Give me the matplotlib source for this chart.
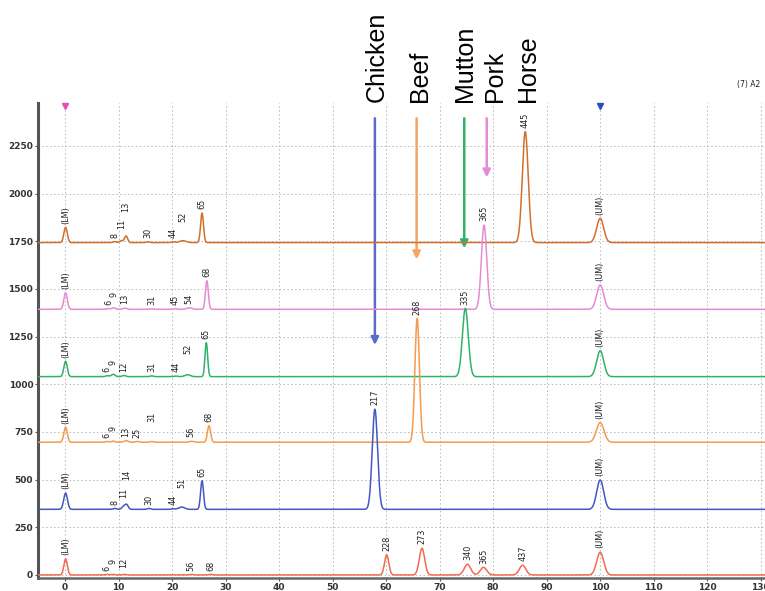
import numpy as np
import matplotlib
matplotlib.use('Agg')
from matplotlib import pyplot as plt

# peak tables, top trace first
horse_base = 1743
horse_pos = [0.1, 9.3, 10.5, 11.4, 15.5, 20.2, 22.0, 25.6, 86.0, 100.0]
horse_hgt = [80, 5, 10, 35, 4, 4, 10, 155, 582, 127]
horse_wid = [0.32, 0.3, 0.3, 0.3, 0.3, 0.3, 0.6, 0.27, 0.55, 0.65]
horse_lab = ['(LM)', '8', '11', '13', '30', '44', '52', '65', '445', '(UM)']
horse_lift = [0, 0, 40, 105, 0, 0, 80, 0, 0, 0]

pork_base = 1393
pork_pos = [0.1, 8.1, 9.1, 11.2, 16.2, 20.6, 23.2, 26.5, 78.3, 100.0]
pork_hgt = [87, 4, 8, 6, 3, 3, 8, 150, 442, 128]
pork_wid = [0.32, 0.3, 0.3, 0.35, 0.3, 0.3, 0.5, 0.27, 0.5, 0.65]
pork_lab = ['(LM)', '6', '9', '13', '31', '45', '54', '68', '365', '(UM)']
pork_lift = [0, 0, 35, 0, 0, 0, 0, 0, 0, 0]

mutton_base = 1040
mutton_pos = [0.1, 7.9, 9.0, 11.0, 16.2, 20.7, 22.9, 26.4, 74.8, 100.0]
mutton_hgt = [80, 5, 12, 6, 4, 3, 10, 178, 358, 136]
mutton_wid = [0.32, 0.3, 0.35, 0.35, 0.3, 0.3, 0.5, 0.25, 0.55, 0.65]
mutton_lab = ['(LM)', '6', '9', '12', '31', '44', '52', '65', '335', '(UM)']
mutton_lift = [0, 0, 30, 0, 0, 0, 90, 0, 0, 0]

beef_base = 696
beef_pos = [0.1, 7.9, 9.0, 11.4, 13.5, 16.2, 23.6, 26.9, 65.8, 100.0]
beef_hgt = [78, 4, 6, 8, 4, 4, 5, 87, 650, 103]
beef_wid = [0.32, 0.3, 0.3, 0.4, 0.3, 0.3, 0.4, 0.3, 0.42, 0.7]
beef_lab = ['(LM)', '6', '9', '13', '25', '31', '56', '68', '268', '(UM)']
beef_lift = [0, 0, 35, 0, 0, 80, 0, 0, 0, 0]

chicken_base = 344
chicken_pos = [0.1, 9.3, 10.9, 11.5, 15.7, 20.2, 21.8, 25.6, 57.9, 100.0]
chicken_hgt = [85, 5, 15, 25, 5, 3, 12, 150, 525, 154]
chicken_wid = [0.35, 0.3, 0.3, 0.3, 0.3, 0.3, 0.55, 0.27, 0.5, 0.65]
chicken_lab = ['(LM)', '8', '11', '14', '30', '44', '51', '65', '217', '(UM)']
chicken_lift = [0, 0, 20, 105, 0, 0, 80, 0, 0, 0]

mix_base = 0
mix_pos = [0.1, 7.9, 9.0, 11.0, 23.6, 27.2, 60.1, 66.7, 75.2, 78.2, 85.5, 100.0]
mix_hgt = [84, 3, 3, 3, 3, 3, 105, 140, 56, 40, 51, 119]
mix_wid = [0.32, 0.3, 0.3, 0.3, 0.3, 0.3, 0.4, 0.5, 0.6, 0.6, 0.6, 0.65]
mix_lab = ['(LM)', '6', '9', '12', '56', '68', '228', '273', '340', '365', '437', '(UM)']
mix_lift = [0, 0, 35, 15, 0, 0, 0, 0, 0, 0, 0, 0]

species = ['Chicken', 'Beef', 'Mutton', 'Pork', 'Horse']
species_x = [58.2, 66.4, 74.8, 80.4, 86.6]

arrow_x = [57.9, 65.7, 74.6, 78.8]
arrow_tip = [1206, 1655, 1713, 2085]
arrow_colors = ['#5a6cc6', '#f8a460', '#2fb36a', '#e58ad4']
arrow_top = 2395

x_ticks = list(range(0, 131, 10))
y_ticks = list(range(0, 2251, 250))

traces = [
    (horse_base, horse_pos, horse_hgt, horse_wid, horse_lab, horse_lift, '#d0702c'),
    (pork_base, pork_pos, pork_hgt, pork_wid, pork_lab, pork_lift, '#e48cd4'),
    (mutton_base, mutton_pos, mutton_hgt, mutton_wid, mutton_lab, mutton_lift, '#2fb36a'),
    (beef_base, beef_pos, beef_hgt, beef_wid, beef_lab, beef_lift, '#f79a4a'),
    (chicken_base, chicken_pos, chicken_hgt, chicken_wid, chicken_lab, chicken_lift, '#4557c0'),
    (mix_base, mix_pos, mix_hgt, mix_wid, mix_lab, mix_lift, '#f26a50'),
]

fig = plt.figure(figsize=(7.65, 5.91), dpi=100)
ax = fig.add_axes([0.0497, 0.022, 0.9503, 0.8037])
ax.set_xlim(-5.05, 130.8)
ax.set_ylim(-16, 2475)

x = np.linspace(-5.05, 130.8, 6000)

# each trace is its baseline plus one gaussian per peak
for base, pos, hgt, wid, lab, lift, col in traces:
    y = np.full_like(x, float(base))
    for p, h, w in zip(pos, hgt, wid):
        y += h * np.exp(-0.5 * ((x - p) / w) ** 2)
    ax.plot(x, y, color=col, lw=1.1, zorder=3)
    for p, t, l in zip(pos, lab, lift):
        top = np.interp(p, x, y)
        ax.text(p, top + 20 + l, t, rotation=90, ha='center', va='bottom',
                fontsize=6.5, fontstretch='condensed', color='#222222', zorder=4)

for ax_x, tip, col in zip(arrow_x, arrow_tip, arrow_colors):
    ax.annotate('', xy=(ax_x, tip), xytext=(ax_x, arrow_top),
                arrowprops=dict(arrowstyle='-|>', color=col, lw=1.8,
                                mutation_scale=11, shrinkA=0, shrinkB=0),
                zorder=2)

trans = ax.get_xaxis_transform()
for name, sx in zip(species, species_x):
    ax.text(sx, 1.002, name, transform=trans, rotation=90, ha='center',
            va='bottom', fontsize=18, family='Liberation Sans', color='black')

ax.plot([0], [0.993], marker='v', color='#e050b8', ms=5, transform=trans,
        clip_on=False, zorder=5)
ax.plot([100], [0.993], marker='v', color='#2a4bbf', ms=5, transform=trans,
        clip_on=False, zorder=5)

fig.text(0.994, 1 - 84 / 591, '(7) A2', ha='right', va='center', fontsize=5.5,
         color='#222222')

ax.set_xticks(x_ticks)
ax.set_yticks(y_ticks)
ax.tick_params(labelsize=6.5, length=2, pad=1.5, color='#555555', labelcolor='#333333')
for lbl in ax.get_xticklabels() + ax.get_yticklabels():
    lbl.set_fontweight('bold')
ax.grid(True, color='#b8b8b8', lw=0.7, ls=(0, (1.5, 2.5)))
ax.set_axisbelow(True)
for s in ['top', 'right']:
    ax.spines[s].set_visible(False)
ax.spines['left'].set_linewidth(2.2)
ax.spines['left'].set_color('#555555')
ax.spines['bottom'].set_linewidth(1.8)
ax.spines['bottom'].set_color('#666666')

fig.savefig('out.png', dpi=100)
